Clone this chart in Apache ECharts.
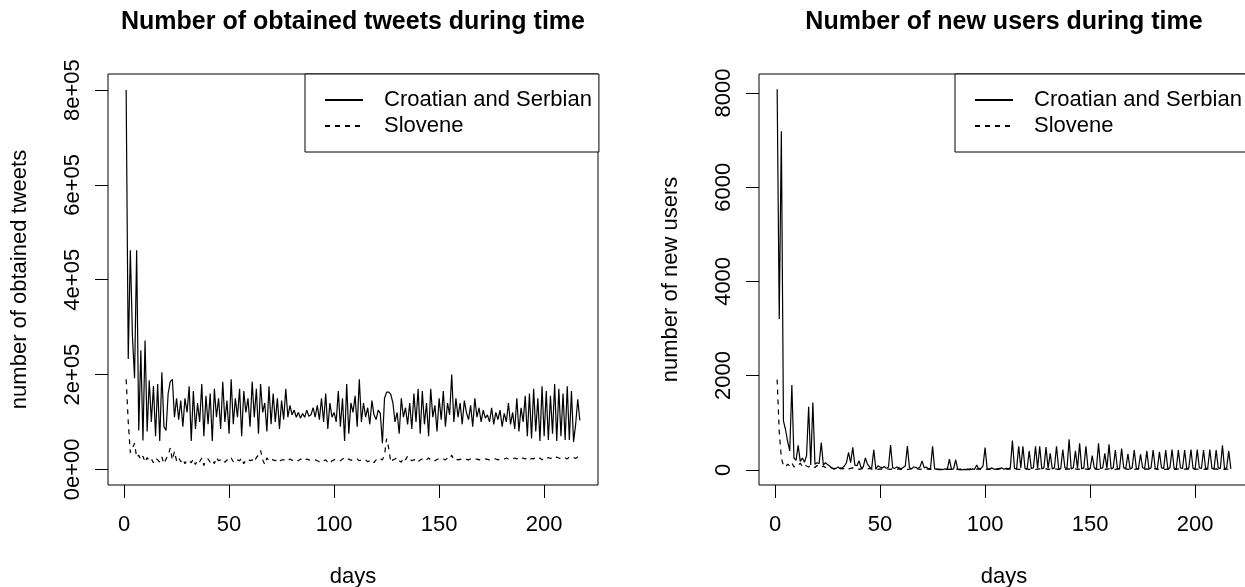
<!DOCTYPE html>
<html>
<head>
<meta charset="utf-8">
<title>tweets and users during time</title>
<script src="https://cdn.jsdelivr.net/npm/echarts/dist/echarts.min.js"></script>
<style>
body { margin:0; background:#fff; }
#main { width:1245px; height:587px; }
</style>
</head>
<body>
<div id="main"></div>
<script>
// obtained tweets per day (Croatian and Serbian)
var csTweets = [
	800000, 233000, 462000, 280000, 192000, 462000, 82000, 251000, 61000, 272000,
	80000, 188000, 100000, 176000, 70000, 180000, 60000, 205000, 90000, 82000,
	160000, 185000, 190000, 110000, 150000, 105000, 145000, 90000, 150000, 120000,
	175000, 60000, 165000, 85000, 140000, 100000, 180000, 70000, 155000, 95000,
	160000, 60000, 170000, 110000, 150000, 85000, 185000, 100000, 145000, 75000,
	190000, 95000, 150000, 110000, 170000, 70000, 165000, 120000, 150000, 90000,
	185000, 110000, 170000, 75000, 180000, 120000, 140000, 80000, 175000, 95000,
	160000, 100000, 150000, 85000, 145000, 105000, 170000, 110000, 135000, 115000,
	125000, 110000, 120000, 108000, 118000, 110000, 125000, 112000, 115000, 130000,
	110000, 135000, 105000, 150000, 100000, 160000, 85000, 140000, 110000, 120000,
	100000, 165000, 90000, 150000, 60000, 180000, 75000, 140000, 120000, 155000,
	90000, 190000, 100000, 140000, 110000, 130000, 95000, 145000, 115000, 105000,
	125000, 118000, 55000, 150000, 163000, 163000, 158000, 140000, 100000, 120000,
	75000, 150000, 110000, 130000, 95000, 140000, 85000, 160000, 100000, 170000,
	75000, 165000, 95000, 140000, 70000, 170000, 110000, 135000, 80000, 150000,
	105000, 165000, 90000, 140000, 115000, 200000, 100000, 150000, 110000, 140000,
	95000, 145000, 120000, 105000, 135000, 90000, 150000, 110000, 130000, 100000,
	125000, 108000, 115000, 100000, 130000, 95000, 120000, 105000, 125000, 90000,
	118000, 100000, 140000, 95000, 120000, 85000, 150000, 80000, 130000, 100000,
	155000, 70000, 160000, 65000, 170000, 80000, 150000, 60000, 175000, 70000,
	165000, 62000, 155000, 75000, 180000, 60000, 170000, 70000, 160000, 62000,
	175000, 62000, 165000, 58000, 95000, 148000, 103000
];
// obtained tweets per day (Slovene)
var slTweets = [
	190000, 100000, 35000, 45000, 55000, 25000, 30000, 20000, 28000, 15000,
	25000, 18000, 22000, 14000, 24000, 20000, 15000, 26000, 12000, 22000,
	30000, 45000, 20000, 38000, 18000, 25000, 16000, 22000, 12000, 20000,
	18000, 14000, 22000, 10000, 20000, 16000, 24000, 8000, 19000, 22000,
	15000, 20000, 12000, 25000, 18000, 20000, 22000, 15000, 20000, 18000,
	24000, 16000, 22000, 20000, 18000, 24000, 12000, 20000, 22000, 18000,
	20000, 15000, 25000, 30000, 40000, 20000, 10000, 24000, 18000, 22000,
	20000, 18000, 22000, 17000, 20000, 20000, 21000, 18000, 22000, 19000,
	20000, 21000, 18000, 22000, 20000, 18000, 22000, 20000, 19000, 21000,
	20000, 18000, 16000, 14000, 18000, 20000, 15000, 12000, 18000, 20000,
	22000, 20000, 18000, 22000, 24000, 20000, 22000, 19000, 21000, 20000,
	22000, 18000, 20000, 22000, 20000, 16000, 18000, 20000, 14000, 20000,
	18000, 22000, 20000, 30000, 65000, 45000, 15000, 20000, 22000, 25000,
	18000, 15000, 25000, 20000, 28000, 22000, 18000, 20000, 22000, 16000,
	20000, 22000, 18000, 20000, 24000, 20000, 22000, 18000, 21000, 22000,
	20000, 22000, 20000, 24000, 22000, 30000, 20000, 22000, 20000, 21000,
	22000, 20000, 21000, 20000, 22000, 21000, 20000, 22000, 20000, 21000,
	20000, 22000, 21000, 20000, 22000, 23000, 22000, 20000, 22000, 23000,
	22000, 24000, 22000, 20000, 22000, 24000, 22000, 25000, 22000, 24000,
	22000, 24000, 20000, 23000, 22000, 25000, 22000, 24000, 20000, 24000,
	22000, 25000, 23000, 24000, 22000, 26000, 24000, 22000, 25000, 24000,
	22000, 26000, 24000, 25000, 23000, 26000, 24000
];
// new users per day (Croatian and Serbian)
var csUsers = [
	8080, 3200, 7190, 1040, 850, 600, 400, 1800, 250, 200,
	520, 180, 250, 160, 300, 1340, 100, 1430, 120, 150,
	130, 580, 100, 150, 110, 80, 40, 15, 30, 60,
	20, 40, 80, 150, 370, 150, 475, 100, 85, 190,
	40, 60, 250, 120, 60, 30, 425, 10, 85, 60,
	40, 70, 30, 60, 525, 40, 30, 60, 40, 20,
	50, 80, 503, 40, 20, 60, 50, 30, 60, 190,
	40, 60, 20, 30, 496, 20, 10, 0, 10, 5,
	20, 10, 227, 10, 20, 213, 10, 5, 0, 10,
	5, 10, 0, 20, 10, 100, 10, 30, 80, 470,
	20, 10, 40, 20, 10, 20, 30, 40, 10, 30,
	20, 40, 620, 30, 20, 500, 40, 500, 30, 20,
	400, 30, 40, 500, 30, 500, 20, 40, 480, 30,
	350, 20, 40, 500, 30, 20, 430, 40, 30, 650,
	20, 40, 400, 30, 560, 20, 40, 500, 30, 20,
	300, 40, 20, 560, 30, 40, 350, 30, 540, 20,
	40, 420, 30, 20, 450, 40, 30, 340, 20, 40,
	420, 30, 20, 330, 40, 30, 400, 20, 40, 420,
	30, 20, 380, 40, 30, 420, 20, 40, 430, 30,
	20, 420, 40, 30, 420, 20, 40, 430, 30, 20,
	430, 40, 30, 420, 20, 40, 430, 30, 20, 420,
	40, 30, 520, 20, 40, 400, 20
];
// new users per day (Slovene)
var slUsers = [
	1915, 800, 250, 90, 60, 120, 80, 150, 60, 100,
	90, 140, 70, 110, 80, 60, 100, 70, 50, 90,
	60, 40, 80, 50, 30, 60, 40, 20, 50, 30,
	40, 20, 30, 50, 20, 30, 40, 20, 30, 10,
	20, 30, 10, 20, 30, 10, 20, 15, 10, 20,
	15, 10, 20, 15, 10, 20, 10, 15, 20, 10,
	15, 20, 10, 15, 25, 10, 15, 20, 10, 15,
	10, 15, 20, 10, 15, 10, 20, 15, 10, 15,
	20, 10, 15, 10, 20, 15, 10, 15, 20, 10,
	15, 10, 20, 15, 10, 15, 20, 10, 15, 20,
	10, 15, 20, 10, 15, 10, 20, 15, 10, 15,
	20, 15, 10, 20, 15, 10, 15, 20, 10, 15,
	10, 20, 15, 10, 15, 20, 10, 15, 20, 10,
	15, 10, 20, 15, 10, 15, 20, 10, 15, 20,
	10, 15, 20, 10, 15, 10, 20, 15, 10, 15,
	20, 10, 15, 10, 20, 15, 10, 15, 20, 10,
	15, 10, 20, 15, 10, 15, 20, 10, 15, 20,
	10, 15, 20, 10, 15, 10, 20, 15, 10, 15,
	20, 15, 10, 20, 15, 10, 15, 20, 10, 15,
	10, 20, 15, 10, 15, 20, 10, 15, 20, 10,
	15, 10, 20, 15, 10, 15, 20, 10, 15, 20,
	10, 15, 20, 10, 15, 10, 20
];
var seriesNames = ['Croatian and Serbian', 'Slovene'];
var dayTicks = [0, 50, 100, 150, 200];
var tweetTicks = [0, 200000, 400000, 600000, 800000];
var userTicks = [0, 2000, 4000, 6000, 8000];

var FONT = '"Liberation Sans", Arial, Helvetica, sans-serif';

// day index -> [x,y] pairs
function pairs(arr) {
	var out = [];
	for (var i = 0; i < arr.length; ++i) out.push([i + 1, arr[i]]);
	return out;
}

// R style x axis
function xAxisOf(idx) {
	return {
		type: 'value', gridIndex: idx,
		min: -7.64, max: 225.64,
		name: 'days', nameLocation: 'middle', nameGap: 81,
		nameTextStyle: {fontFamily: FONT, fontSize: 22, color: '#000'},
		splitLine: {show: false},
		axisLine: {show: false, onZero: false},
		axisTick: {show: true, length: 13, lineStyle: {color: '#000', width: 1}, customValues: dayTicks},
		axisLabel: {fontFamily: FONT, fontSize: 22, color: '#000', margin: 29, customValues: dayTicks}
	};
}

function yAxisOf(idx, name, min, max, ticks, fmt) {
	return {
		type: 'value', gridIndex: idx,
		min: min, max: max,
		name: name, nameLocation: 'middle', nameGap: 77,
		nameTextStyle: {fontFamily: FONT, fontSize: 22, color: '#000'},
		splitLine: {show: false},
		axisLine: {show: false, onZero: false},
		axisTick: {show: true, length: 13, lineStyle: {color: '#000', width: 1}, customValues: ticks},
		axisLabel: {fontFamily: FONT, fontSize: 22, color: '#000', margin: 24, rotate: 90,
			customValues: ticks, formatter: fmt}
	};
}

// boxed legend, line samples only
function legendOf(left) {
	return {
		left: left, top: 74, orient: 'vertical',
		selectedMode: false,
		data: seriesNames,
		padding: [13, 7, 13, 19],
		itemGap: 0, itemWidth: 38, itemHeight: 14,
		itemStyle: {opacity: 0},
		borderColor: '#000', borderWidth: 1, borderRadius: 0,
		backgroundColor: '#fff',
		textStyle: {fontFamily: FONT, fontSize: 22, color: '#000', lineHeight: 26, padding: [0, 0, 0, 16]}
	};
}

function gridOf(left) {
	return {
		left: left, top: 74, width: 490, height: 411,
		outerBoundsMode: 'none', containLabel: false,
		show: true, borderColor: '#000', borderWidth: 1, backgroundColor: 'transparent'
	};
}

function lineOf(name, idx, arr, dashed) {
	return {
		name: name, type: 'line',
		xAxisIndex: idx, yAxisIndex: idx,
		data: pairs(arr),
		symbol: 'none', showSymbol: false,
		lineStyle: {color: '#000', width: 1.2, type: dashed ? [5, 5] : 'solid'},
		itemStyle: {color: '#000'}
	};
}

var dom = document.getElementById('main');
var chart = echarts.init(dom);

var option = {
	backgroundColor: '#fff',
	animation: false,
	title: [
		{text: 'Number of obtained tweets during time', left: 353, top: 10, textAlign: 'center', padding: 0,
			textStyle: {fontFamily: FONT, fontSize: 25, fontWeight: 'bold', color: '#000'}},
		{text: 'Number of new users during time', left: 1004, top: 10, textAlign: 'center', padding: 0,
			textStyle: {fontFamily: FONT, fontSize: 25, fontWeight: 'bold', color: '#000'}}
	],
	legend: [legendOf(305), legendOf(955)],
	grid: [gridOf(108), gridOf(759)],
	xAxis: [xAxisOf(0), xAxisOf(1)],
	yAxis: [
		yAxisOf(0, 'number of obtained tweets', -33000, 834000, tweetTicks, function(v) {
			return v === 0 ? '0e+00' : (v / 100000) + 'e+05';
		}),
		yAxisOf(1, 'number of new users', -323, 8403, userTicks, function(v) { return String(v); })
	],
	series: [
		lineOf(seriesNames[0], 0, csTweets, false),
		lineOf(seriesNames[1], 0, slTweets, true),
		lineOf(seriesNames[0], 1, csUsers, false),
		lineOf(seriesNames[1], 1, slUsers, true)
	]
};
chart.setOption(option);
</script>
</body>
</html>
